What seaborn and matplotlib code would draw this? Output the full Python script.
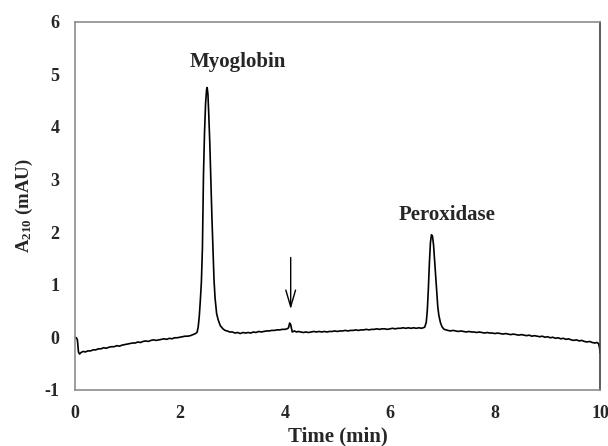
import matplotlib
matplotlib.use("Agg")
import matplotlib.pyplot as plt
import seaborn as sns
import pandas as pd

# Chromatogram trace: retention time (min) and absorbance at 210 nm (mAU)
time_min = [
    0.00, 0.03, 0.05, 0.07, 0.09, 0.12, 0.16, 0.20, 0.25, 0.30,
    0.35, 0.40, 0.45, 0.50, 0.55, 0.60, 0.65, 0.70, 0.75, 0.80,
    0.85, 0.90, 0.95, 1.00, 1.05, 1.10, 1.15, 1.20, 1.25, 1.30,
    1.35, 1.40, 1.45, 1.50, 1.55, 1.60, 1.65, 1.70, 1.75, 1.80,
    1.85, 1.90, 1.95, 2.00, 2.05, 2.10, 2.15, 2.20, 2.25, 2.30,
    2.33, 2.35, 2.37, 2.39, 2.41, 2.43, 2.45, 2.47, 2.49, 2.51,
    2.52, 2.535, 2.55, 2.57, 2.59, 2.61, 2.63, 2.65, 2.67, 2.70,
    2.73, 2.77, 2.82, 2.86, 2.90, 2.95, 3.00, 3.05, 3.10, 3.15,
    3.20, 3.25, 3.30, 3.35, 3.40, 3.45, 3.50, 3.55, 3.60, 3.65,
    3.70, 3.75, 3.80, 3.85, 3.90, 3.95, 4.00, 4.04, 4.07, 4.09,
    4.11, 4.14, 4.18, 4.22, 4.26, 4.30, 4.35, 4.40, 4.45, 4.50,
    4.55, 4.60, 4.65, 4.70, 4.75, 4.80, 4.85, 4.90, 4.95, 5.00,
    5.05, 5.10, 5.15, 5.20, 5.25, 5.30, 5.35, 5.40, 5.45, 5.50,
    5.55, 5.60, 5.65, 5.70, 5.75, 5.80, 5.85, 5.90, 5.95, 6.00,
    6.05, 6.10, 6.15, 6.20, 6.25, 6.30, 6.35, 6.40, 6.45, 6.50,
    6.55, 6.60, 6.63, 6.66, 6.69, 6.71, 6.73, 6.75, 6.77, 6.79,
    6.81, 6.83, 6.85, 6.87, 6.89, 6.91, 6.93, 6.96, 6.99, 7.03,
    7.07, 7.10, 7.15, 7.20, 7.25, 7.30, 7.35, 7.40, 7.45, 7.50,
    7.55, 7.60, 7.65, 7.70, 7.75, 7.80, 7.85, 7.90, 7.95, 8.00,
    8.05, 8.10, 8.15, 8.20, 8.25, 8.30, 8.35, 8.40, 8.45, 8.50,
    8.55, 8.60, 8.65, 8.70, 8.75, 8.80, 8.85, 8.90, 8.95, 9.00,
    9.05, 9.10, 9.15, 9.20, 9.25, 9.30, 9.35, 9.40, 9.45, 9.50,
    9.55, 9.60, 9.65, 9.70, 9.75, 9.80, 9.85, 9.90, 9.94, 9.97,
    9.99, 10.00,
]
absorbance_mau = [
    0.00, -0.01, -0.05, -0.28, -0.32, -0.29, -0.27, -0.28, -0.26, -0.26,
    -0.24, -0.24, -0.22, -0.22, -0.20, -0.21, -0.19, -0.18, -0.18, -0.16,
    -0.17, -0.15, -0.14, -0.13, -0.12, -0.11, -0.11, -0.09, -0.10, -0.08,
    -0.07, -0.08, -0.06, -0.05, -0.06, -0.05, -0.04, -0.03, -0.04, -0.02,
    -0.03, -0.01, -0.01, 0.00, 0.01, 0.02, 0.02, 0.03, 0.05, 0.07,
    0.10, 0.20, 0.40, 0.70, 1.05, 1.70, 3.10, 3.90, 4.45, 4.72,
    4.75, 4.62, 4.25, 3.70, 3.00, 2.30, 1.70, 1.10, 0.75, 0.45,
    0.33, 0.22, 0.16, 0.13, 0.12, 0.10, 0.10, 0.08, 0.09, 0.07,
    0.09, 0.08, 0.09, 0.08, 0.10, 0.09, 0.11, 0.10, 0.11, 0.12,
    0.12, 0.13, 0.13, 0.14, 0.14, 0.15, 0.15, 0.16, 0.18, 0.27,
    0.24, 0.10, 0.12, 0.10, 0.11, 0.10, 0.09, 0.10, 0.09, 0.10,
    0.11, 0.10, 0.11, 0.10, 0.11, 0.10, 0.11, 0.11, 0.12, 0.11,
    0.12, 0.12, 0.13, 0.12, 0.13, 0.13, 0.14, 0.13, 0.14, 0.14,
    0.15, 0.14, 0.15, 0.15, 0.16, 0.15, 0.16, 0.16, 0.15, 0.16,
    0.17, 0.16, 0.17, 0.17, 0.18, 0.17, 0.18, 0.17, 0.18, 0.17,
    0.18, 0.17, 0.18, 0.19, 0.28, 0.50, 0.90, 1.40, 1.80, 1.95,
    1.92, 1.75, 1.45, 1.12, 0.82, 0.58, 0.42, 0.28, 0.20, 0.15,
    0.14, 0.13, 0.12, 0.13, 0.12, 0.11, 0.12, 0.11, 0.10, 0.11,
    0.10, 0.10, 0.09, 0.10, 0.09, 0.08, 0.09, 0.08, 0.08, 0.07,
    0.08, 0.07, 0.06, 0.07, 0.06, 0.05, 0.06, 0.05, 0.04, 0.05,
    0.04, 0.03, 0.04, 0.02, 0.03, 0.02, 0.01, 0.02, 0.00, 0.01,
    -0.01, 0.00, -0.02, -0.01, -0.03, -0.02, -0.04, -0.03, -0.05, -0.06,
    -0.05, -0.07, -0.06, -0.08, -0.09, -0.08, -0.10, -0.11, -0.10, -0.12,
    -0.20, -0.30,
]

peak_labels = ["Myoglobin", "Peroxidase"]
peak_label_x = [3.10, 7.09]
peak_label_y = [5.23, 2.33]

x_ticks = [0, 2, 4, 6, 8, 10]
y_ticks = [-1, 0, 1, 2, 3, 4, 5, 6]

df = pd.DataFrame({"time": time_min, "abs": absorbance_mau})

sns.set_style("white")
plt.rcParams["font.family"] = ["Liberation Serif", "DejaVu Serif"]
plt.rcParams["font.weight"] = "bold"
plt.rcParams["mathtext.fontset"] = "custom"
plt.rcParams["mathtext.rm"] = "Liberation Serif:bold"
plt.rcParams["mathtext.bf"] = "Liberation Serif:bold"
plt.rcParams["mathtext.it"] = "Liberation Serif:bold:italic"

fig = plt.figure(figsize=(6.08, 4.46), dpi=100)
ax = fig.add_axes([0.123, 0.126, 0.864, 0.825])

sns.lineplot(data=df, x="time", y="abs", ax=ax, color="black", linewidth=1.2,
             estimator=None, sort=False)

ax.set_xlim(0, 10)
ax.set_ylim(-1, 6)
ax.set_xticks(x_ticks)
ax.set_yticks(y_ticks)
ax.set_xticklabels([str(t) for t in x_ticks], fontsize=13, fontweight="bold")
ax.set_yticklabels([str(t) for t in y_ticks], fontsize=13, fontweight="bold")
ax.tick_params(axis="both", direction="out", length=5, width=1, color="#808080", pad=6)

for side in ["left", "bottom", "top"]:
    ax.spines[side].set_color("#8c8c8c")
    ax.spines[side].set_linewidth(1.2)
ax.spines["right"].set_color("#404040")
ax.spines["right"].set_linewidth(1.2)

ax.set_xlabel("Time (min)", fontsize=15, fontweight="bold", labelpad=3)
ax.set_ylabel(r"A$_{\mathbf{210}}$ (mAU)", fontsize=13.5, fontweight="bold", labelpad=7)

for name, lx, ly in zip(peak_labels, peak_label_x, peak_label_y):
    ax.text(lx, ly, name, ha="center", va="center", fontsize=15, fontweight="bold")

# injection-disturbance marker
ax.annotate("", xy=(4.11, 0.48), xytext=(4.11, 1.57),
            arrowprops=dict(arrowstyle="->,head_length=1.2,head_width=0.35",
                            color="black", lw=1.0))

fig.savefig("out.png", dpi=100)
